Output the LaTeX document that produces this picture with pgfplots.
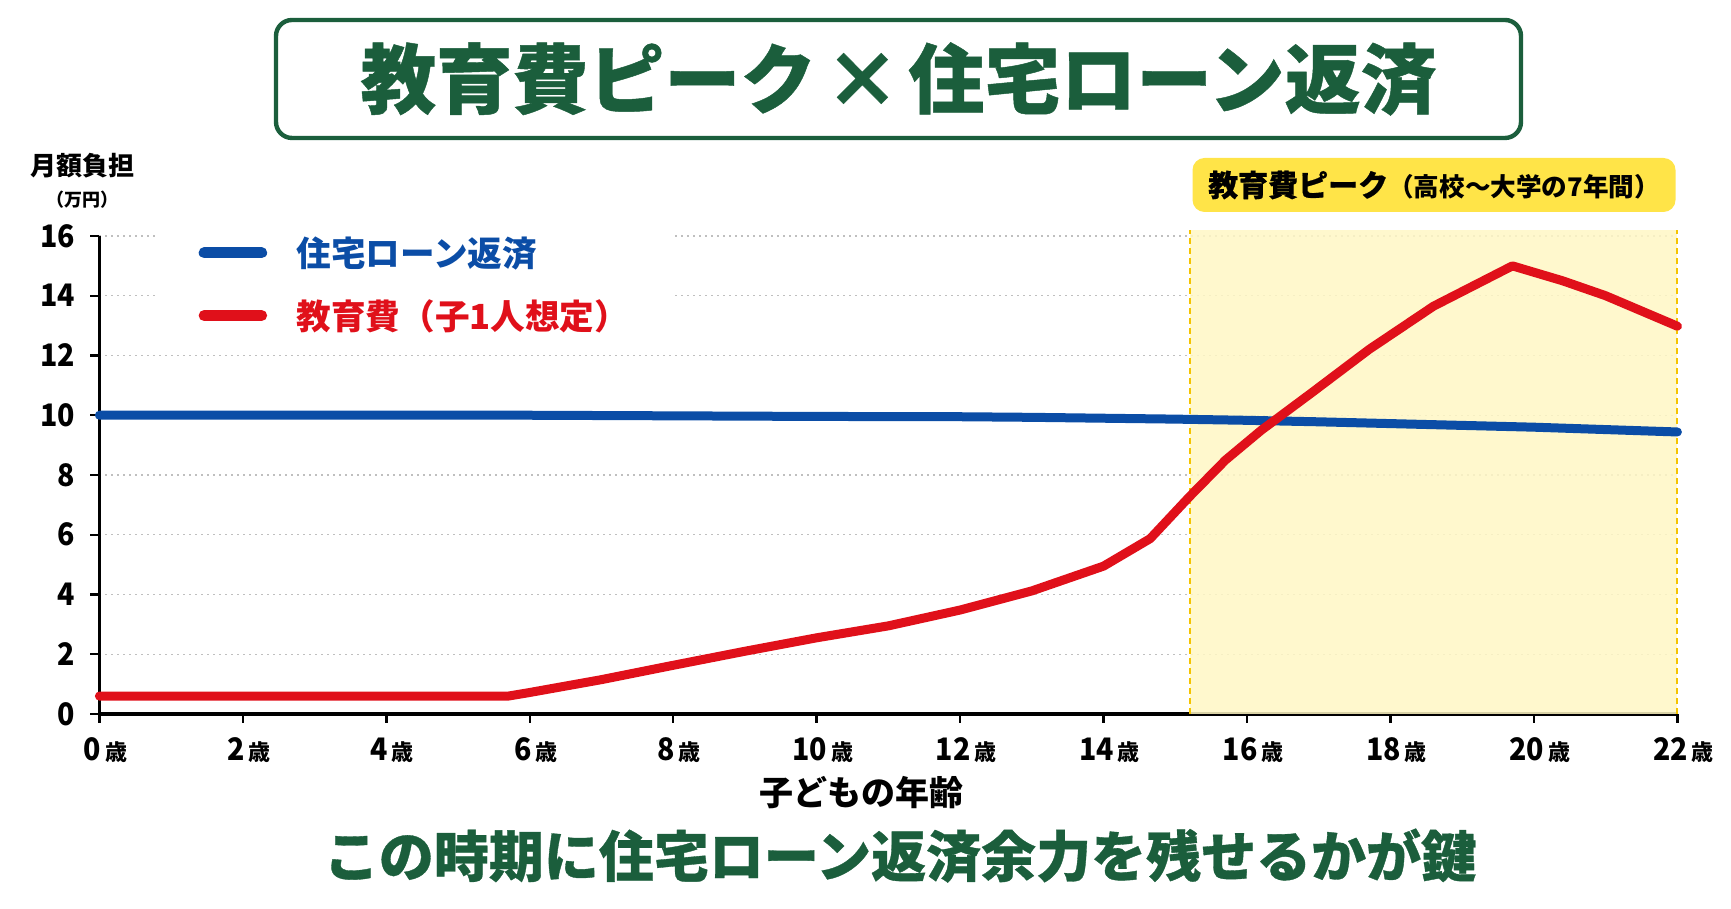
\documentclass[border=0pt]{standalone}
\usepackage{pgfplots}
\pgfplotsset{compat=1.18}
\usepackage{fontspec}
\setmainfont{Noto Sans CJK JP}
\newfontfamily\heavy{Noto Sans CJK JP}[FakeBold=0.6]
\newfontfamily\numfont{Noto Sans CJK JP}[FakeStretch=0.92]
\definecolor{tgreen}{HTML}{1B5E3C}
\definecolor{lblue}{HTML}{0B4DA6}
\definecolor{lred}{HTML}{E0101A}
\definecolor{shadey}{HTML}{FFF7C4}
\definecolor{dashy}{HTML}{F5C400}
\definecolor{boxy}{HTML}{FFE448}
\newcommand\sai[1]{#1\hspace{2pt}{\fontsize{11}{10}\selectfont\mainfont 歳}}
\newcommand\mainfont{\fontspec{Noto Sans CJK JP}\bfseries}
\begin{document}
\begin{tikzpicture}[x=1pt,y=1pt]
\path[use as bounding box] (0,0) rectangle (865.5,454.5);
% title box
\draw[tgreen, line width=2.2pt, rounded corners=8pt, fill=white] (138,385.5) rectangle (760.5,444.5);
\node[tgreen, font=\fontsize{38}{38}\heavy\bfseries\selectfont] at (449.25,415) {教育費ピーク\hspace{4pt}×\hspace{4pt}住宅ローン返済};
% y label
\node[font=\fontsize{13}{13}\bfseries\selectfont] at (41.4,371.7) {月額負担};
\node[font=\fontsize{9}{9}\bfseries\selectfont] at (41.4,354.5) {（万円）};
% peak label box
\node[fill=boxy, rounded corners=6pt, minimum width=241.5pt, minimum height=27pt, inner sep=0pt] at (717,362) {{\fontsize{15}{15}\heavy\bfseries\selectfont 教育費ピーク}{\fontsize{12.8}{13}\bfseries\selectfont （高校〜大学の7年間）}};
% bottom message
\node[tgreen, font=\fontsize{27.5}{27.5}\heavy\bfseries\selectfont] at (450,26.7) {この時期に住宅ローン返済余力を残せるかが鍵};
\begin{axis}[
  at={(49.7pt,97.5pt)}, anchor=south west,
  scale only axis, width=789pt, height=239pt,
  xmin=0, xmax=22, ymin=0, ymax=16,
  clip=false,
  axis x line*=bottom, axis y line*=left,
  axis line style={line width=1.6pt, black},
  xtick={0,2,...,22}, ytick={0,2,...,16},
  xticklabels={\sai{0},\sai{2},\sai{4},\sai{6},\sai{8},\sai{10},\sai{12},\sai{14},\sai{16},\sai{18},\sai{20},\sai{22}},
  ymajorgrids,
  grid style={gray!50, line width=0.6pt, dash pattern=on 1pt off 2pt},
  tick style={black, line width=1.2pt},
  tick align=outside, major tick length=4.5pt,
  /pgf/number format/assume math mode=true,
  xticklabel style={font=\fontsize{15.5}{15}\numfont\bfseries\selectfont, yshift=-4pt, xshift=3pt},
  yticklabel style={font=\fontsize{15.5}{15}\numfont\bfseries\selectfont, xshift=-4pt},
  xlabel={子どもの年齢},
  xlabel style={font=\fontsize{17}{17}\bfseries\selectfont, at={(axis description cs:0.483,0)}, anchor=center, yshift=-39.5pt},
  legend style={at={(axis description cs:0.0373,0.899)}, anchor=west, draw=none, fill=white,
    inner xsep=20pt, inner ysep=6pt, font=\fontsize{17.3}{17}\bfseries\selectfont,
    row sep=11pt, cells={anchor=west}},
  legend image code/.code={\path[draw=none, fill=none] (0pt,-3pt) rectangle (47pt,3pt); \draw[#1, line width=5.5pt, line cap=round] (2.75pt,0pt) -- (31.5pt,0pt);},
]
\addplot[fill=shadey, fill opacity=0.85, draw=none, forget plot] coordinates {(15.2,0) (15.2,16.2) (22,16.2) (22,0)};
\addplot[dashy, line width=1pt, dash pattern=on 3pt off 2pt, forget plot] coordinates {(15.2,0) (15.2,16.2)};
\addplot[dashy, line width=1pt, dash pattern=on 3pt off 2pt, forget plot] coordinates {(22,0) (22,16.2)};
\addplot[lblue, line width=4.5pt, line cap=round, line join=round] coordinates {
(0,10) (2,10) (4,10) (6,10) (8,9.98) (10,9.96) (12,9.95) (13,9.93) (14,9.9) (15,9.87) (16,9.83) (17,9.78) (18,9.72) (19,9.66) (20,9.6) (21,9.52) (22,9.44)};
\addlegendentry{\textcolor{lblue}{住宅ローン返済}}
\addplot[lred, line width=4.5pt, line cap=round, line join=round] coordinates {
(0,0.6) (5.7,0.6) (6,0.72) (7,1.15) (8,1.63) (9,2.1) (10,2.55) (11,2.95) (12,3.48) (13,4.12) (14,4.95) (14.65,5.87) (15.2,7.28) (15.7,8.5) (16.2,9.5) (16.9,10.75) (17.7,12.2) (18.6,13.65) (19.7,15.0) (20.4,14.5) (21,14.0) (22,12.98)};
\addlegendentry{\textcolor{lred}{教育費（子1人想定）}}
\end{axis}
\end{tikzpicture}
\end{document}
